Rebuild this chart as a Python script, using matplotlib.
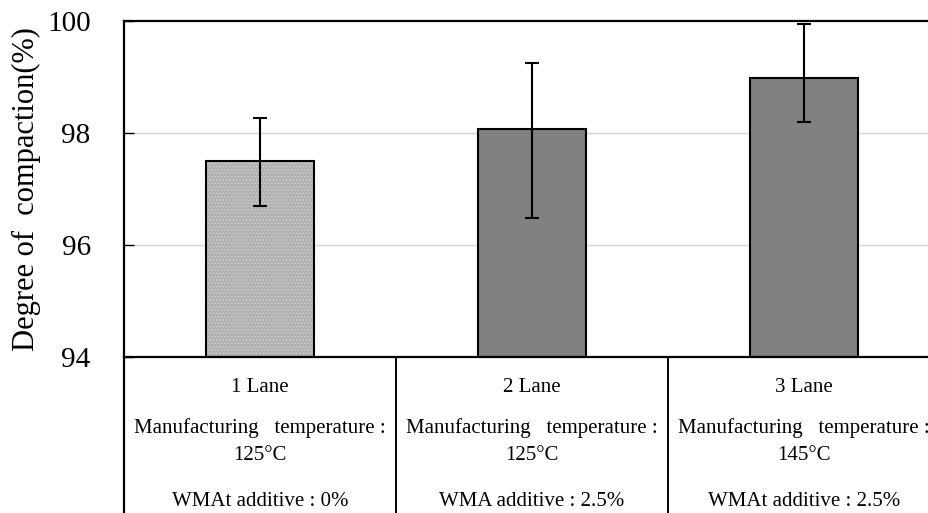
import matplotlib
matplotlib.use("Agg")
import matplotlib.pyplot as plt
import numpy as np

plt.rcParams['font.family'] = ['Liberation Serif', 'DejaVu Serif']
plt.rcParams['hatch.linewidth'] = 0.6

lanes = ["1 Lane", "2 Lane", "3 Lane"]
temps = ["125\u00b0C", "125\u00b0C", "145\u00b0C"]
additives = ["WMAt additive : 0%", "WMA additive : 2.5%", "WMAt additive : 2.5%"]
means = [97.5, 98.07, 98.99]
err_upper = [98.26, 99.25, 99.94]
err_lower = [96.70, 96.48, 98.19]
yticks = [94, 96, 98, 100]

fig = plt.figure(figsize=(9.29, 5.13), dpi=100)
W, H = 929, 513
ax = fig.add_axes([124 / W, (H - 357) / H, 816 / W, 336 / H])

x = np.arange(len(lanes))
yerr = np.array([np.array(means) - np.array(err_lower), np.array(err_upper) - np.array(means)])
colors = ['#b2b2b2', '#808080', '#808080']
bars = ax.bar(x, np.array(means) - 94, bottom=94, width=0.4, color=colors,
              edgecolor='black', linewidth=1.5, zorder=2)
bars[0].set_hatch('.....')
bars[0]._hatch_color = (0.82, 0.82, 0.82, 1)
ax.errorbar(x, means, yerr=yerr, fmt='none', ecolor='black', elinewidth=1.5,
            capsize=5, capthick=1.5, zorder=3)

ax.set_xlim(-0.5, 2.5)
ax.set_ylim(94, 100)
ax.set_yticks(yticks)
ax.set_yticklabels([str(t) for t in yticks], fontsize=21)
ax.tick_params(axis='y', direction='in', length=7, width=1, pad=24)
ax.set_xticks([])
for yv in [96, 98]:
    ax.axhline(yv, color='#d3d3d3', linewidth=1, zorder=1)
for s in ['top', 'left', 'bottom', 'right']:
    ax.spines[s].set_linewidth(1.6)
ax.spines['right'].set_visible(False)
ax.set_ylabel("Degree of  compaction(%)", fontsize=22, labelpad=4)

tr = ax.get_xaxis_transform()
ax.plot([-0.5, -0.5], [0, -0.5], transform=tr, color='black', lw=1.6, clip_on=False)
for b in [0.5, 1.5]:
    ax.plot([b, b], [0, -0.5], transform=tr, color='black', lw=1.4, clip_on=False)

def yf(py):
    return (357 - py) / 336.0

fs = 15
for i in range(len(lanes)):
    ax.text(i, yf(388), lanes[i], transform=tr, ha='center', va='center', fontsize=fs)
    ax.text(i, yf(428), "Manufacturing   temperature :", transform=tr, ha='center', va='center', fontsize=fs)
    ax.text(i, yf(456), temps[i], transform=tr, ha='center', va='center', fontsize=fs)
    ax.text(i, yf(501), additives[i], transform=tr, ha='center', va='center', fontsize=fs)

fig.savefig("out.png", dpi=100)
